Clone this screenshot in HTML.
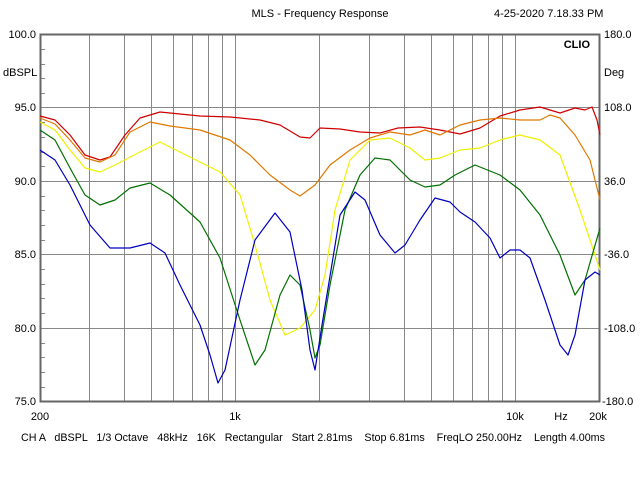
<!DOCTYPE html>
<html><head><meta charset="utf-8"><style>
body{margin:0;background:#fff;width:640px;height:480px;overflow:hidden}
svg text{font-family:"Liberation Sans",sans-serif;font-size:11px;fill:#000}
</style></head><body>
<svg width="640" height="480" xmlns="http://www.w3.org/2000/svg">
<rect width="640" height="480" fill="#fff"/>
<g stroke="#888" stroke-width="1">
<line x1="89.5" y1="34" x2="89.5" y2="401"/><line x1="124.5" y1="34" x2="124.5" y2="401"/>
<line x1="151.5" y1="34" x2="151.5" y2="401"/><line x1="173.5" y1="34" x2="173.5" y2="401"/>
<line x1="192.5" y1="34" x2="192.5" y2="401"/><line x1="208.5" y1="34" x2="208.5" y2="401"/>
<line x1="222.5" y1="34" x2="222.5" y2="401"/><line x1="235.5" y1="34" x2="235.5" y2="401"/>
<line x1="319.5" y1="34" x2="319.5" y2="401"/><line x1="369.5" y1="34" x2="369.5" y2="401"/>
<line x1="404.5" y1="34" x2="404.5" y2="401"/><line x1="431.5" y1="34" x2="431.5" y2="401"/>
<line x1="453.5" y1="34" x2="453.5" y2="401"/><line x1="472.5" y1="34" x2="472.5" y2="401"/>
<line x1="488.5" y1="34" x2="488.5" y2="401"/><line x1="502.5" y1="34" x2="502.5" y2="401"/>
<line x1="515.5" y1="34" x2="515.5" y2="401"/>
<line x1="40" y1="107.5" x2="600" y2="107.5"/><line x1="40" y1="181.5" x2="600" y2="181.5"/>
<line x1="40" y1="254.5" x2="600" y2="254.5"/><line x1="40" y1="328.5" x2="600" y2="328.5"/>
</g>
<g stroke="#888" stroke-width="1">
<line x1="41" y1="49.5" x2="45" y2="49.5"/><line x1="41" y1="64.5" x2="45" y2="64.5"/><line x1="41" y1="78.5" x2="45" y2="78.5"/><line x1="41" y1="93.5" x2="45" y2="93.5"/>
<line x1="41" y1="122.5" x2="45" y2="122.5"/><line x1="41" y1="137.5" x2="45" y2="137.5"/><line x1="41" y1="152.5" x2="45" y2="152.5"/><line x1="41" y1="166.5" x2="45" y2="166.5"/>
<line x1="41" y1="196.5" x2="45" y2="196.5"/><line x1="41" y1="210.5" x2="45" y2="210.5"/><line x1="41" y1="225.5" x2="45" y2="225.5"/><line x1="41" y1="240.5" x2="45" y2="240.5"/>
<line x1="41" y1="269.5" x2="45" y2="269.5"/><line x1="41" y1="284.5" x2="45" y2="284.5"/><line x1="41" y1="298.5" x2="45" y2="298.5"/><line x1="41" y1="313.5" x2="45" y2="313.5"/>
<line x1="41" y1="343.5" x2="45" y2="343.5"/><line x1="41" y1="357.5" x2="45" y2="357.5"/><line x1="41" y1="372.5" x2="45" y2="372.5"/><line x1="41" y1="387.5" x2="45" y2="387.5"/>
</g>
<rect x="40.5" y="34.5" width="559" height="367" fill="none" stroke="#666" stroke-width="2"/>
<g fill="none" stroke-width="1.2" stroke-linejoin="round">
<polyline stroke="#d00000" points="40,116 55,120 70,135 85,155 100,160 110,157 125,135 140,118 160,112 180,114 200,116 230,117 260,120 280,125 300,137 310,138 320,128 340,129 360,132 380,133 398,128 420,127 440,130 460,134 480,128 500,116 520,110 540,107 560,113 575,108 585,110 592,107 597,120 600,135"/>
<polyline stroke="#e07800" points="40,118 55,124 70,140 85,158 100,162 115,155 130,132 150,122 170,126 200,130 230,140 250,155 270,175 290,190 300,196 315,185 330,165 350,150 370,138 390,132 410,135 425,130 440,135 460,125 480,120 500,118 520,120 540,120 550,115 560,118 575,135 590,160 600,200"/>
<polyline stroke="#f0f000" points="40,122 55,130 70,150 85,168 100,172 115,165 140,152 160,142 180,152 200,162 220,172 240,195 255,245 270,300 285,335 300,328 315,310 325,275 335,210 350,160 370,140 390,138 410,148 425,160 440,158 460,150 480,148 500,140 520,135 540,140 560,155 580,210 600,270"/>
<polyline stroke="#007000" points="40,130 55,140 70,168 85,195 100,205 115,200 130,188 150,183 170,195 200,222 220,258 240,320 255,365 265,350 280,295 290,275 300,285 310,330 315,358 320,345 330,285 345,210 360,175 375,158 390,160 410,180 425,187 440,185 455,175 475,165 500,175 520,190 540,215 560,255 575,295 585,280 600,228"/>
<polyline stroke="#0000c0" points="40,150 55,160 70,185 90,225 110,248 130,248 150,243 165,253 180,285 200,325 210,355 218,383 225,370 240,300 255,240 275,213 290,232 302,290 310,350 315,370 322,325 340,215 355,192 365,200 380,235 395,253 405,245 420,220 435,198 450,202 460,212 475,222 490,238 500,258 510,250 520,250 530,258 545,300 560,345 568,355 575,335 585,280 595,272 600,275"/>
</g>
<text x="320" y="17" text-anchor="middle">MLS - Frequency Response</text>
<text x="494" y="17">4-25-2020 7.18.33 PM</text>
<text x="590" y="48" text-anchor="end" font-weight="bold">CLIO</text>
<text x="36" y="38" text-anchor="end">100.0</text>
<text x="3" y="76">dBSPL</text>
<text x="36" y="111" text-anchor="end">95.0</text>
<text x="36" y="185" text-anchor="end">90.0</text>
<text x="36" y="258" text-anchor="end">85.0</text>
<text x="36" y="332" text-anchor="end">80.0</text>
<text x="36" y="405" text-anchor="end">75.0</text>
<text x="604" y="38">180.0</text>
<text x="604" y="76">Deg</text>
<text x="604" y="111">108.0</text>
<text x="604" y="185">36.0</text>
<text x="604" y="258">-36.0</text>
<text x="604" y="332">-108.0</text>
<text x="602" y="405">-180.0</text>
<text x="40" y="420" text-anchor="middle">200</text>
<text x="235" y="420" text-anchor="middle">1k</text>
<text x="515" y="420" text-anchor="middle">10k</text>
<text x="561" y="420" text-anchor="middle">Hz</text>
<text x="598" y="420" text-anchor="middle">20k</text>
<text x="21" y="441" style="white-space:pre" textLength="584" lengthAdjust="spacingAndGlyphs">CH A   dBSPL   1/3 Octave   48kHz   16K   Rectangular   Start 2.81ms    Stop 6.81ms    FreqLO 250.00Hz    Length 4.00ms</text>
</svg>
</body></html>
